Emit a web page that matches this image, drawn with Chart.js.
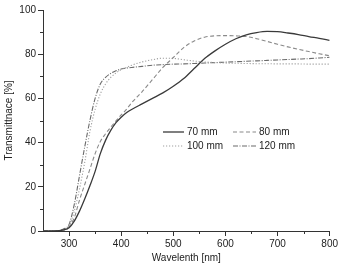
<!DOCTYPE html>
<html>
<head>
<meta charset="utf-8">
<script src="https://cdn.jsdelivr.net/npm/chart.js@4.4.0/dist/chart.umd.min.js"></script>
<style>
  html, body { margin: 0; padding: 0; background: #fff; }
  #grafico { display: block; }
</style>
</head>
<body>
<canvas id="grafico" width="340" height="267"></canvas>
<script>
// Datos
const longitudes = [250, 270, 290, 300, 310, 320, 330, 340, 350, 360, 370, 380, 390, 400, 410, 420, 440, 460, 480, 500, 520, 540, 560, 580, 600, 620, 640, 660, 680, 700, 720, 740, 760, 780, 800];
const serie70 = [0, 0, 0.5, 1.5, 4.5, 9, 14.5, 20.5, 27, 35, 41, 45.5, 49, 51.5, 53.5, 55, 57.5, 60, 62.5, 65.5, 69, 73.5, 78, 81.5, 84.5, 87, 88.8, 89.8, 90.3, 90.2, 89.6, 88.9, 88, 87.2, 86.3];
const serie80 = [0, 0, 0.5, 2, 6, 14, 21, 28, 35, 40.5, 44, 47, 49.8, 52.5, 55, 58, 63, 68.5, 74, 78.5, 83, 86, 87.7, 88.3, 88.4, 88.3, 88, 87, 85.8, 84.5, 83.3, 82.2, 81.2, 80.2, 79.3];
const serie100 = [0, 0, 0.5, 2, 9, 19, 31, 45, 55, 62, 66.5, 69.5, 71.5, 73, 74, 75, 76.5, 77.5, 78.2, 78.1, 77.5, 76.9, 76.5, 76.2, 76, 75.9, 75.8, 75.7, 75.7, 75.6, 75.6, 75.6, 75.5, 75.5, 75.5];
const serie120 = [0, 0, 1, 3, 12, 25, 38, 50, 60, 66.5, 69.5, 71.3, 72.5, 73.3, 73.7, 74, 74.5, 75, 75.3, 75.5, 75.6, 75.8, 76, 76.2, 76.4, 76.6, 76.8, 77, 77.2, 77.4, 77.6, 77.8, 78, 78.3, 78.6];
const etiquetas = ["70 mm", "80 mm", "100 mm", "120 mm"];
const ticksX = [300, 400, 500, 600, 700, 800];
const ticksY = [0, 20, 40, 60, 80, 100];

const colorEje = "#333";
const fuente = "'Liberation Sans', Arial, sans-serif";

function puntos(valores) {
    return longitudes.map((x, i) => ({ x: x, y: valores[i] }));
}

const estilos = [
    { color: "#3a3a3a", dash: [], ancho: 1.3 },
    { color: "#8a8a8a", dash: [4, 2.5], ancho: 1.1 },
    { color: "#a0a0a0", dash: [1.2, 1.8], ancho: 1.1 },
    { color: "#6a6a6a", dash: [5, 1.5, 1, 1.5], ancho: 1.1 }
];
const series = [serie70, serie80, serie100, serie120];

// Leyenda dibujada dentro del area del grafico
const leyendaPlugin = {
    id: "leyenda",
    afterDraw(chart) {
        const ctx = chart.ctx;
        const pos = [
            { x1: 163, x2: 184, y: 132 },
            { x1: 233, x2: 256, y: 132 },
            { x1: 163, x2: 184, y: 146 },
            { x1: 233, x2: 256, y: 146 }
        ];
        ctx.save();
        ctx.font = "10px " + fuente;
        ctx.textBaseline = "middle";
        etiquetas.forEach((t, i) => {
            const p = pos[i];
            const e = estilos[i];
            ctx.strokeStyle = e.color;
            ctx.lineWidth = e.ancho;
            ctx.setLineDash(e.dash);
            ctx.beginPath();
            ctx.moveTo(p.x1, p.y);
            ctx.lineTo(p.x2, p.y);
            ctx.stroke();
            ctx.setLineDash([]);
            ctx.fillStyle = "#222";
            ctx.fillText(t, p.x2 + 3, p.y);
        });
        ctx.restore();
    }
};

// Marcas menores de los ejes
const menoresPlugin = {
    id: "menores",
    afterDraw(chart) {
        const ctx = chart.ctx;
        const sx = chart.scales.x;
        const sy = chart.scales.y;
        const area = chart.chartArea;
        ctx.save();
        ctx.strokeStyle = colorEje;
        ctx.lineWidth = 1;
        for (let v = 350; v < 800; v += 100) {
            const px = Math.round(sx.getPixelForValue(v)) + 0.5;
            ctx.beginPath();
            ctx.moveTo(px, area.bottom);
            ctx.lineTo(px, area.bottom + 3);
            ctx.stroke();
        }
        for (let v = 10; v < 100; v += 20) {
            const py = Math.round(sy.getPixelForValue(v)) + 0.5;
            ctx.beginPath();
            ctx.moveTo(area.left, py);
            ctx.lineTo(area.left - 3, py);
            ctx.stroke();
        }
        ctx.restore();
    }
};

const ctx = document.getElementById("grafico").getContext("2d");
new Chart(ctx, {
    type: "line",
    data: {
        datasets: series.map((s, i) => ({
            label: etiquetas[i],
            data: puntos(s),
            borderColor: estilos[i].color,
            borderWidth: estilos[i].ancho,
            borderDash: estilos[i].dash,
            pointRadius: 0,
            fill: false,
            cubicInterpolationMode: "monotone"
        }))
    },
    options: {
        responsive: false,
        animation: false,
        layout: { padding: { left: 0, right: 8, top: 10, bottom: 0 } },
        plugins: {
            legend: { display: false },
            tooltip: { enabled: false }
        },
        scales: {
            x: {
                type: "linear",
                min: 250,
                max: 800,
                afterBuildTicks: (s) => { s.ticks = ticksX.map(v => ({ value: v })); },
                afterFit: (s) => { s.height = 36; },
                grid: { drawOnChartArea: false, drawTicks: true, tickLength: 5, color: colorEje },
                border: { display: true, color: colorEje, width: 1 },
                ticks: { color: "#222", font: { family: fuente, size: 10 }, padding: 2, maxRotation: 0 },
                title: { display: true, text: "Wavelenth [nm]", color: "#222", font: { family: fuente, size: 10 }, padding: { top: 0, bottom: 3 } }
            },
            y: {
                min: 0,
                max: 100,
                afterBuildTicks: (s) => { s.ticks = ticksY.map(v => ({ value: v })); },
                afterFit: (s) => { s.width = 43; },
                grid: { drawOnChartArea: false, drawTicks: true, tickLength: 5, color: colorEje },
                border: { display: true, color: colorEje, width: 1 },
                ticks: { color: "#222", font: { family: fuente, size: 10 }, padding: 2 },
                title: { display: true, text: "Transmittnace [%]", color: "#222", font: { family: fuente, size: 10 }, padding: { top: 3, bottom: 0 } }
            }
        }
    },
    plugins: [leyendaPlugin, menoresPlugin]
});
</script>
</body>
</html>
